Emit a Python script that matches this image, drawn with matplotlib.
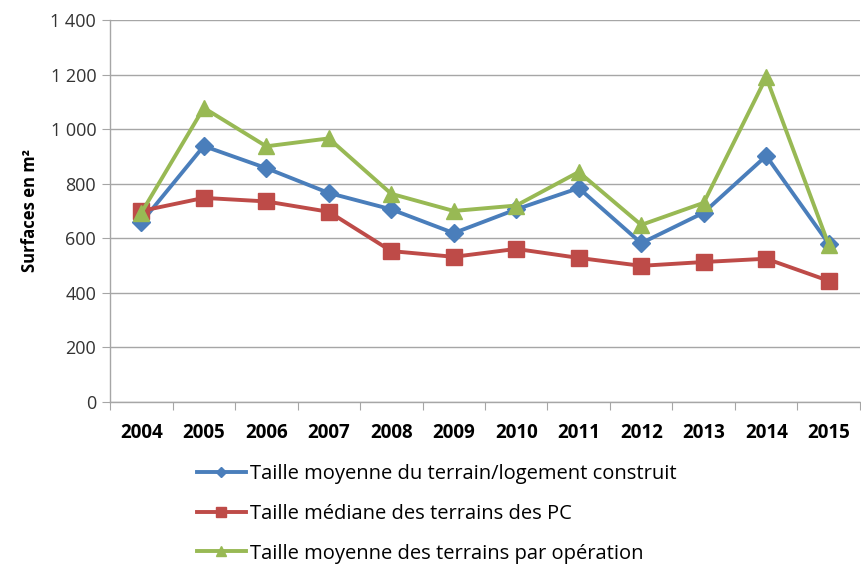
import matplotlib
matplotlib.use("Agg")
import matplotlib.pyplot as plt
from matplotlib.ticker import FuncFormatter, FixedLocator, NullFormatter

years = ["2004", "2005", "2006", "2007", "2008", "2009", "2010", "2011", "2012", "2013", "2014", "2015"]
moyenne_logement = [658, 938, 857, 766, 706, 619, 706, 784, 582, 694, 902, 580]
mediane_pc = [700, 748, 735, 697, 553, 532, 561, 528, 499, 513, 525, 444]
moyenne_operation = [693, 1078, 937, 966, 763, 700, 720, 843, 649, 730, 1190, 576]

labels = ["Taille moyenne du terrain/logement construit",
          "Taille médiane des terrains des PC",
          "Taille moyenne des terrains par opération"]
colors = ["#4A7EBB", "#BE4B48", "#98B954"]
markers = ["D", "s", "^"]
msizes = [9, 11, 11]

plt.rcParams['font.family'] = ['Open Sans', 'DejaVu Sans']

fig = plt.figure(figsize=(8.61, 5.68), dpi=100)
ax = fig.add_axes([0.1278, 0.2923, 0.871, 0.6725])

x = list(range(len(years)))
series = [moyenne_logement, mediane_pc, moyenne_operation]
handles = []
for s, lab, c, m, ms in zip(series, labels, colors, markers, msizes):
    h, = ax.plot(x, s, color=c, lw=2.8, marker=m, markersize=ms, label=lab, zorder=3)
    handles.append(h)

ax.set_xlim(-0.5, len(years) - 0.5)
ax.set_ylim(0, 1400)
ax.set_yticks(range(0, 1401, 200))
ax.yaxis.set_major_formatter(FuncFormatter(lambda v, p: f"{int(v):,}".replace(",", " ")))
ax.grid(axis='y', color='#A6A6A6', lw=1.0)
ax.set_axisbelow(True)

ax.xaxis.set_major_locator(FixedLocator([i - 0.5 for i in range(len(years) + 1)]))
ax.xaxis.set_major_formatter(NullFormatter())
ax.xaxis.set_minor_locator(FixedLocator(x))
ax.set_xticklabels(years, minor=True, fontweight='bold', fontsize=13.5)
ax.tick_params(axis='x', which='minor', length=0, pad=15)
ax.tick_params(axis='x', which='major', length=6, color='#A6A6A6', direction='out')
ax.tick_params(axis='y', length=6, color='#A6A6A6', labelsize=13, pad=4, labelcolor='#333333')

for sp in ['top', 'right']:
    ax.spines[sp].set_visible(False)
for sp in ['left', 'bottom']:
    ax.spines[sp].set_color('#A6A6A6')
    ax.spines[sp].set_linewidth(1.0)

ax.set_ylabel("Surfaces en m²", fontweight='bold', fontsize=12, labelpad=8)

fig.legend(handles=handles, labels=labels, loc='upper left',
           bbox_to_anchor=(0.229, 0.183), frameon=False, fontsize=14.5,
           handlelength=2.4, handletextpad=0.2, labelspacing=0.98,
           markerscale=0.6, borderaxespad=0, borderpad=0)

fig.savefig("out.png", dpi=100)
